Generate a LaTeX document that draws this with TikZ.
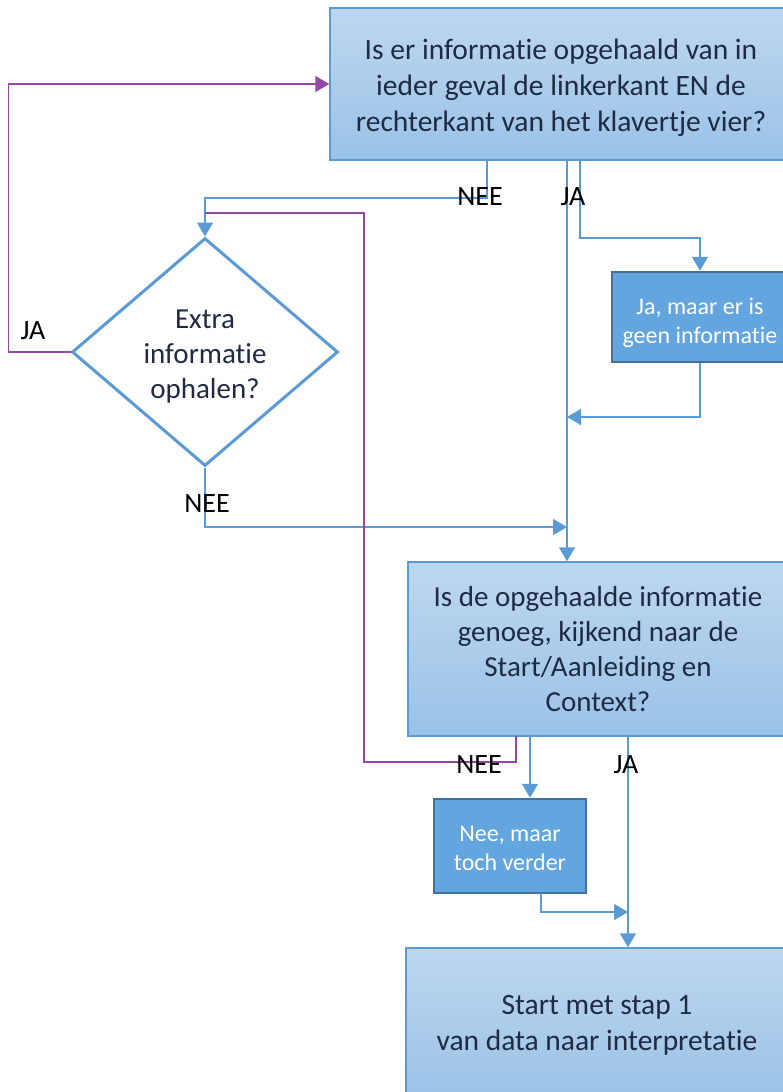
\documentclass[tikz,border=0pt]{standalone}
\usepackage{fontspec}
\setmainfont{Carlito}[Ligatures=NoCommon]
\usetikzlibrary{shapes.geometric,arrows.meta}

\definecolor{ink}{RGB}{31,42,68}
\definecolor{lijn}{RGB}{91,155,213}
\definecolor{boxtop}{RGB}{190,215,239}
\definecolor{boxbot}{RGB}{154,194,231}
\definecolor{knop}{RGB}{99,165,222}
\definecolor{knoprand}{RGB}{65,113,156}
\definecolor{terug}{RGB}{150,70,165}

\tikzset{
  vraag/.style={rectangle,draw=lijn,line width=1.5pt,top color=boxtop,bottom color=boxbot,inner sep=0pt},
  keuze/.style={rectangle,draw=knoprand,line width=2.5pt,fill=knop,text=white,font=\fontsize{24}{29}\selectfont,inner sep=0pt,text depth=0pt},
  ruit/.style={diamond,draw=lijn,line width=3pt,fill=white,inner sep=0pt,shape aspect=1.17},
  flow/.style={lijn,line width=1.5pt,-{Triangle[width=16pt,length=14pt]}},
  terugpijl/.style={terug,line width=1.5pt},
  antw/.style={text=black,font=\fontsize{28}{34}\selectfont}
}

\begin{document}
\begin{tikzpicture}
  [x=1pt,y=-1pt,every node/.style={align=center,text=ink,font=\fontsize{29.5}{36}\selectfont}]
  \useasboundingbox (0,0) rectangle (782,1092);
  \node[vraag,minimum width=462pt,minimum height=152pt,text height=94pt,text depth=0pt] (q1) at (561,84) {Is er informatie opgehaald van in\\ieder geval de linkerkant EN de\\rechterkant van het klavertje vier?};
  \node[ruit,minimum width=266pt,minimum height=228pt,text height=93pt,text depth=0pt,font=\fontsize{29}{35}\selectfont] (d) at (205,352) {Extra\\informatie\\ophalen?};
  \node[keuze,minimum width=176pt,minimum height=90pt,text height=53pt] (j1) at (700,317) {Ja, maar er is\\geen informatie};
  \node[vraag,minimum width=380pt,minimum height=174pt,font=\fontsize{29}{35}\selectfont] (q2) at (598,649) {Is de opgehaalde informatie\\genoeg, kijkend naar de\\Start/Aanleiding en\\Context?};
  \node[keuze,minimum width=152pt,minimum height=94pt,text height=48pt] (n2) at (510,846) {Nee, maar\\toch verder};
  \node[vraag,minimum width=382pt,minimum height=150pt,text height=55pt,text depth=0pt] (q3) at (597,1023) {Start met stap 1\\van data naar interpretatie};

  % aansluitpunten
  \coordinate (q1nee) at (487,160);
  \coordinate (q1ja) at (567,160);
  \coordinate (q1ja2) at (580,160);
  \coordinate (m1) at (567,417);
  \coordinate (m2) at (567,527);
  \coordinate (q2nee) at (516,736);
  \coordinate (q2nee2) at (530,736);
  \coordinate (q2ja) at (628,736);
  \coordinate (n2uit) at (541,893);
  \coordinate (m3) at (628,912);
  \coordinate (p1) at (364,213);

  \foreach \from/\to in {q1ja/q2,q2nee2/n2,q2ja/q3}
    \draw[flow] (\from) -- (\to.north -| \from);
  \draw[flow] (q1nee) -- ++(0,38) -| (d.north);
  \draw[flow] (q1ja2) -- ++(0,78) -| (j1.north);
  \draw[flow] (j1.south) |- (m1);
  \draw[flow] (d.south) |- (m2);
  \draw[flow] (n2uit) |- (m3);
  \draw[terugpijl,-{Triangle[width=16pt,length=14pt]}] (d.west) -- ++(-62,0) |- (q1.west);
  \draw[terugpijl] (q2nee) -- ++(0,26) -| (p1) -- (p1 -| d.north);

  \node[antw] (nee1) at (480,197) {NEE};
  \node[antw] (ja1) at (573,197) {JA};
  \node[antw] (ja2) at (33,331) {JA};
  \node[antw] (nee2) at (207,504) {NEE};
  \node[antw] (nee3) at (479,765) {NEE};
  \node[antw] (ja3) at (626,765) {JA};
\end{tikzpicture}
\end{document}
